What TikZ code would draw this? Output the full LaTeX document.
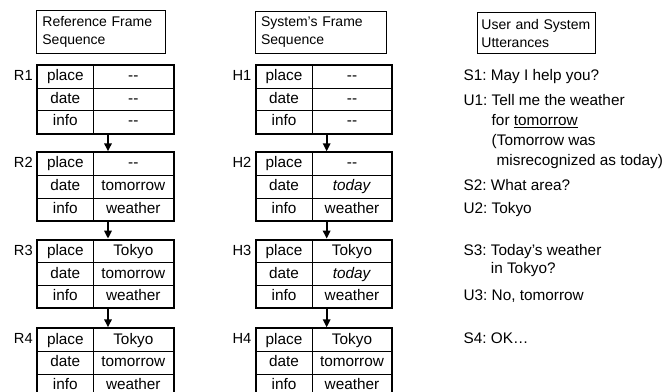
\documentclass[tikz,border=0pt]{standalone}
\usepackage{fontspec}
\setmainfont{Liberation Sans}
\usetikzlibrary{positioning,matrix,arrows.meta}
\tikzset{
  frame/.style={matrix of nodes, draw, line width=1.4pt, inner sep=0pt, column sep=-0.6pt, row sep=-0.6pt,
    nodes={draw, line width=0.6pt, anchor=center, text height=8.6pt, text depth=2.6pt, inner xsep=0pt, inner ysep=2.9pt, font=\fontsize{11.5}{13}\selectfont},
    column 1/.style={nodes={minimum width=42pt}}, column 2/.style={nodes={minimum width=60pt}}},
  header/.style={draw, line width=0.6pt, align=left, text width=#1, minimum height=30.75pt, inner ysep=4.5pt, inner xsep=4.5pt, font=\fontsize{10.5}{13.5}\selectfont},
  frame label/.style={anchor=base east, inner sep=0pt, font=\fontsize{11}{13}\selectfont},
  next frame/.style={-{Triangle[length=6pt,width=5.5pt]}, line width=1.5pt},
  utterance/.style={anchor=base west, inner sep=0pt, font=\fontsize{11.5}{15}\selectfont},
}
\newcommand{\utt}[2]{\begin{tabular}[t]{@{}l@{\ }l@{}}#1&#2\end{tabular}}

\begin{document}
\begin{tikzpicture}
\useasboundingbox (0,0) rectangle (504pt,-294pt);
% reference frames
\matrix[frame, anchor=north west] (r1) at (27pt,-48pt) {place & -{}- \\ date & -{}- \\ info & -{}- \\};
\matrix[frame, below=12.5pt of r1] (r2) {place & -{}- \\ date & tomorrow \\ info & weather \\};
\matrix[frame, below=12.5pt of r2] (r3) {place & Tokyo \\ date & tomorrow \\ info & weather \\};
\matrix[frame, below=13.5pt of r3] (r4) {place & Tokyo \\ date & tomorrow \\ info & weather \\};
% system frames
\matrix[frame, right=60pt of r1] (h1) {place & -{}- \\ date & -{}- \\ info & -{}- \\};
\matrix[frame, below=12.5pt of h1] (h2) {place & -{}- \\ date & \textit{today} \\ info & weather \\};
\matrix[frame, below=12.5pt of h2] (h3) {place & Tokyo \\ date & \textit{today} \\ info & weather \\};
\matrix[frame, below=13.5pt of h3] (h4) {place & Tokyo \\ date & tomorrow \\ info & weather \\};
% headers
\node[header=87.75pt, above=7.5pt of r1.north west, anchor=south west] (refhead) {Reference Frame\\Sequence};
\node[header=89.25pt, above=7.5pt of h1.north west, anchor=south west] (syshead) {System's Frame\\Sequence};
\node[header=83pt, inner xsep=2.75pt, above=7.5pt of h1.north east, anchor=south west, xshift=63pt] (utthead) {User and System\\Utterances};
% labels
\foreach \f/\t in {r1/R1,r2/R2,r3/R3,r4/R4,h1/H1,h2/H2,h3/H3,h4/H4}
  \node[frame label] (\f lab) at ([xshift=-3pt]\f-1-1.base west) {\t};
% arrows
\foreach \a/\b in {r1/r2,r2/r3,r3/r4,h1/h2,h2/h3,h3/h4}
  \draw[next frame] ([xshift=2pt]\a.south) -- ([xshift=2pt]\b.north);
% utterances
\coordinate (uttcol) at ([xshift=52.5pt]h1.east);
\node[utterance] (s1) at (uttcol |- h1-1-2.base) {\utt{S1:}{May I help you?}};
\node[utterance] (u1) at ([yshift=-1.5pt]uttcol |- h1-2-2.base) {\utt{U1:}{Tell me the weather\\ & for \underline{tomorrow}\\ & (Tomorrow was\\ & \hspace{3.75pt}misrecognized as today)}};
\node[utterance] (s2) at (uttcol |- h2-2-2.base) {\utt{S2:}{What area?}};
\node[utterance] (u2) at (uttcol |- h2-3-2.base) {\utt{U2:}{Tokyo}};
\node[utterance] (s3) at (uttcol |- h3-1-2.base) {\utt{S3:}{Today's weather\\[-1.5pt] & in Tokyo?}};
\node[utterance] (u3) at (uttcol |- h3-3-2.base) {\utt{U3:}{No, tomorrow}};
\node[utterance] (s4) at (uttcol |- h4-1-2.base) {\utt{S4:}{OK\ldots}};
\end{tikzpicture}
\end{document}
